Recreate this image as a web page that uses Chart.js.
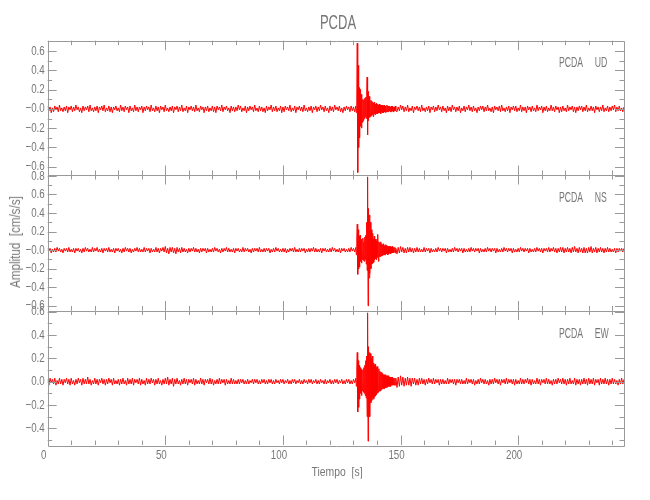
<!DOCTYPE html>
<html>
<head>
<meta charset="utf-8">
<script src="https://cdn.jsdelivr.net/npm/chart.js@4.4.1/dist/chart.umd.min.js"></script>
<style>
  body { margin: 0; background: #fff; }
  #wrap { position: relative; width: 650px; height: 500px; }
  #wrap canvas { position: absolute; left: 0; top: 0; }
  .txt { position: absolute; color: #777; font-family: "Liberation Sans", Arial, sans-serif; white-space: pre; line-height: 1; }
  .tag { left: 559px; font-size: 15px; transform: translateY(-50%) scaleX(0.58); transform-origin: left center; }
</style>
</head>
<body>
<div id="wrap">
  <canvas id="udChart" width="650" height="500"></canvas>
  <canvas id="nsChart" width="650" height="500"></canvas>
  <canvas id="ewChart" width="650" height="500"></canvas>
  <div class="txt" style="left:338px; top:22px; font-size:20px; transform: translate(-50%,-50%) scaleX(0.65);">PCDA</div>
  <div class="txt tag" style="top:61px;">PCDA     UD</div>
  <div class="txt tag" style="top:196px;">PCDA     NS</div>
  <div class="txt tag" style="top:332px;">PCDA     EW</div>
  <div class="txt" style="left:15px; top:242px; font-size:14px; transform: translate(-50%,-50%) rotate(-90deg) scaleX(0.83);">Amplitud  [cm/s/s]</div>
  <div class="txt" style="left:337px; top:471px; font-size:13px; transform: translate(-50%,-50%) scaleX(0.8);">Tiempo  [s]</div>
</div>
<script>
// Time axis
const timeMin = 0;
const timeMax = 245;
const timeTicks = [0, 50, 100, 150, 200];
const timeTickLabels = ['0', '50', '100', '150', '200'];

// sample grid: noise before the event, the event itself (finer), noise after
const beforeStart = 0, beforeStep = 0.5;
const eventStart = 131, eventStep = 0.2;
const afterStart = 148.5, afterStep = 0.5;

// UD component
const udTicks = [-0.6, -0.4, -0.2, 0, 0.2, 0.4, 0.6];
const udTickLabels = ['\u22120.6', '\u22120.4', '\u22120.2', '\u22120.0', '0.2', '0.4', '0.6'];
const udRange = [-0.686, 0.707];
const udBefore = [
  .03,-.02,.02,-.04,.01,-.03,.03,-.01,.02,-.03,.04,-.02,.01,-.03,.02,-.02,.03,-.04,.02,-.01,
  .03,-.03,.02,-.02,.04,-.01,.02,-.03,.01,-.04,.03,-.02,.02,-.01,.03,-.03,.04,-.02,.01,-.03,
  .02,-.02,.03,-.04,.02,-.01,.03,-.02,.04,-.03,.01,-.02,.03,-.03,.02,-.04,.02,-.01,.03,-.02,
  .01,-.03,.04,-.02,.02,-.03,.03,-.01,.02,-.04,.03,-.02,.01,-.03,.04,-.02,.02,-.03,.02,-.01,
  .03,-.04,.02,-.02,.03,-.01,.02,-.03,.04,-.02,.01,-.03,.03,-.02,.02,-.04,.03,-.01,.02,-.03,
  .04,-.02,.01,-.03,.02,-.02,.03,-.04,.02,-.01,.03,-.03,.02,-.02,.04,-.03,.01,-.02,.03,-.04,
  .02,-.01,.03,-.02,.02,-.03,.04,-.02,.01,-.03,.03,-.01,.02,-.04,.02,-.02,.03,-.03,.01,-.02,
  .03,-.03,.02,-.04,.03,-.01,.02,-.02,.04,-.03,.02,-.01,.03,-.02,.01,-.04,.03,-.02,.02,-.03,
  .02,-.02,.04,-.01,.03,-.03,.01,-.02,.03,-.04,.02,-.02,.03,-.01,.02,-.03,.04,-.02,.01,-.03,
  .03,-.02,.02,-.03,.01,-.04,.03,-.02,.02,-.01,.04,-.03,.02,-.02,.03,-.03,.01,-.02,.03,-.04,
  .02,-.03,.03,-.01,.02,-.02,.04,-.03,.01,-.02,.03,-.04,.02,-.01,.03,-.02,.02,-.03,.04,-.02,
  .01,-.03,.02,-.02,.03,-.04,.02,-.01,.03,-.03,.02,-.02,.04,-.01,.02,-.03,.03,-.02,.01,-.04,
  .03,-.02,.02,-.03,.04,-.01,.02,-.02,.03,-.03,.01,-.04,.02,-.02,.03,-.01,.02,-.03,.03,-.02,
  .02,-.03
];
const udEvent = [
  .03,-.04,.10,.68,-.66,.45,-.40,.22,-.30,.20,-.18,.15,-.20,.12,-.14,.10,-.12,.09,-.10,.11,
  -.08,.12,-.10,.14,.33,-.27,.18,-.12,.13,-.09,.10,-.08,.09,-.07,.08,-.06,.07,-.08,.06,-.05,
  .07,-.06,.05,-.05,.06,-.04,.05,-.05,.04,-.04,.05,-.04,.04,-.05,.04,-.03,.04,-.04,.03,-.04,
  .04,-.03,.03,-.04,.03,-.03,.04,-.03,.03,-.03,.03,-.02,.03,-.03,.02,-.03,.03,-.02,.03,-.03,
  .02,-.03,.02,-.02,.03,-.02
];
const udAfter = [
  -.03,.02,-.02,.04,-.01,.03,-.03,.02,-.02,.04,-.03,.01,-.02,.03,-.04,.02,-.01,.03,-.02,.02,
  -.03,.04,-.02,.01,-.03,.02,-.02,.03,-.04,.02,-.01,.03,-.03,.02,-.02,.04,-.01,.02,-.03,.03,
  -.02,.01,-.04,.03,-.02,.02,-.03,.04,-.01,.02,-.03,.02,-.02,.03,-.04,.01,-.02,.03,-.03,.02,
  -.01,.04,-.02,.02,-.03,.03,-.02,.01,-.04,.02,-.02,.03,-.01,.03,-.03,.02,-.02,.04,-.02,.01,
  -.03,.02,-.04,.03,-.01,.02,-.02,.03,-.03,.04,-.02,.01,-.03,.02,-.02,.03,-.04,.02,-.01,.03,
  -.02,.03,-.03,.01,-.02,.04,-.03,.02,-.02,.02,-.04,.03,-.01,.02,-.03,.03,-.02,.01,-.03,.04,
  -.02,.02,-.01,.03,-.04,.02,-.02,.03,-.03,.01,-.02,.04,-.02,.02,-.03,.03,-.01,.02,-.04,.02,
  -.03,.03,-.02,.01,-.03,.04,-.02,.02,-.01,.03,-.03,.02,-.04,.02,-.02,.03,-.01,.03,-.03,.02,
  -.02,.04,-.03,.01,-.02,.03,-.02,.02,-.04,.03,-.01,.02,-.03,.02,-.02,.04,-.03,.01,-.02,.03,
  -.03,.02,-.02,.03,-.01,.04,-.03,.02,-.02,.03,-.02,.01,-.03,.02,-.02,.03
];

// NS component
const nsTicks = [-0.6, -0.4, -0.2, 0, 0.2, 0.4, 0.6, 0.8];
const nsTickLabels = ['\u22120.6', '\u22120.4', '\u22120.2', '\u22120.0', '0.2', '0.4', '0.6', '0.8'];
const nsRange = [-0.65, 0.81];
const nsBefore = [
  .02,-.01,.02,-.03,.01,-.02,.02,-.02,.03,-.01,.02,-.02,.01,-.03,.02,-.01,.02,-.02,.03,-.02,
  .01,-.02,.02,-.03,.02,-.01,.02,-.02,.01,-.03,.02,-.02,.03,-.01,.02,-.02,.01,-.02,.03,-.02,
  .02,-.01,.03,-.02,.01,-.02,.02,-.03,.02,-.01,.02,-.02,.03,-.02,.01,-.02,.02,-.03,.02,-.01,
  .02,-.02,.01,-.03,.02,-.02,.03,-.01,.02,-.02,.02,-.03,.01,-.02,.02,-.01,.03,-.02,.02,-.02,
  .01,-.02,.03,-.02,.02,-.01,.02,-.03,.02,-.02,.01,-.02,.03,-.02,.02,-.03,.02,-.01,.03,-.02,
  .04,-.03,.02,-.04,.03,-.02,.03,-.03,.02,-.04,.03,-.02,.02,-.03,.03,-.02,.02,-.02,.01,-.03,
  .02,-.02,.02,-.01,.03,-.02,.02,-.02,.01,-.03,.02,-.02,.02,-.01,.02,-.03,.02,-.02,.01,-.02,
  .02,-.02,.03,-.01,.02,-.02,.01,-.03,.02,-.02,.02,-.01,.03,-.02,.02,-.02,.01,-.02,.02,-.03,
  .02,-.01,.02,-.02,.01,-.02,.03,-.02,.02,-.01,.02,-.02,.01,-.03,.02,-.02,.02,-.01,.02,-.02,
  .03,-.02,.01,-.02,.02,-.02,.02,-.01,.02,-.03,.01,-.02,.02,-.02,.03,-.01,.02,-.02,.01,-.02,
  .02,-.02,.02,-.03,.01,-.02,.02,-.01,.02,-.02,.03,-.02,.01,-.02,.02,-.02,.02,-.01,.02,-.03,
  .01,-.02,.02,-.02,.02,-.01,.03,-.02,.02,-.02,.01,-.02,.02,-.03,.02,-.01,.02,-.02,.01,-.02,
  .02,-.02,.03,-.01,.02,-.02,.01,-.02,.02,-.03,.02,-.01,.02,-.02,.01,-.02,.02,-.02,.03,-.01,
  .02,-.02
];
const nsEvent = [
  .03,-.05,.12,.28,-.26,.22,-.20,.15,-.18,.16,-.12,.10,-.14,.12,-.10,.13,-.11,.09,-.12,.14,
  -.10,.16,-.15,.30,-.22,.79,-.60,.45,-.30,.38,-.25,.30,-.20,.22,-.15,.18,-.14,.12,-.13,.15,
  -.10,.12,-.09,.10,-.10,.12,-.08,.17,-.12,.09,-.07,.08,-.07,.09,-.06,.07,-.06,.06,-.05,.07,
  -.05,.05,-.05,.06,-.04,.05,-.04,.04,-.05,.04,-.04,.04,-.03,.04,-.04,.03,-.03,.04,-.03,.03,
  -.03,.03,-.02,.03,-.03,.02
];
const nsAfter = [
  -.04,.03,-.03,.04,-.02,.03,-.03,.02,-.03,.03,-.02,.03,-.02,.02,-.03,.02,-.02,.03,-.02,.02,
  -.02,.01,-.02,.03,-.02,.02,-.01,.02,-.03,.02,-.02,.01,-.02,.02,-.02,.03,-.01,.02,-.02,.02,
  -.01,.02,-.03,.02,-.02,.01,-.02,.02,-.02,.03,-.01,.02,-.02,.02,-.01,.02,-.03,.02,-.02,.01,
  -.02,.02,-.02,.03,-.01,.02,-.02,.02,-.01,.02,-.03,.02,-.02,.01,-.02,.02,-.02,.03,-.01,.02,
  -.02,.02,-.01,.02,-.03,.02,-.02,.01,-.02,.02,-.02,.03,-.01,.02,-.02,.02,-.01,.02,-.03,.02,
  -.02,.01,-.02,.02,-.02,.03,-.01,.02,-.02,.02,-.01,.02,-.03,.02,-.02,.01,-.02,.02,-.02,.03,
  -.01,.02,-.02,.02,-.03,.02,-.01,.02,-.02,.03,-.02,.02,-.01,.03,-.02,.02,-.03,.02,-.02,.03,
  -.02,.03,-.03,.02,-.02,.03,-.02,.02,-.03,.03,-.02,.04,-.02,.02,-.03,.03,-.02,.02,-.03,.03,
  -.03,.02,-.03,.03,-.02,.04,-.03,.02,-.02,.03,-.03,.02,-.02,.03,-.02,.02,-.03,.02,-.02,.03,
  -.02,.02,-.02,.01,-.02,.02,-.03,.02,-.02,.02,-.01,.02,-.02,.02,-.02,.02
];

// EW component
const ewTicks = [-0.4, -0.2, 0, 0.2, 0.4, 0.6];
const ewTickLabels = ['\u22120.4', '\u22120.2', '0.0', '0.2', '0.4', '0.6'];
const ewRange = [-0.543, 0.61];
const ewBefore = [
  .02,-.03,.03,-.01,.02,-.02,.03,-.03,.01,-.02,.03,-.02,.02,-.03,.02,-.01,.03,-.02,.02,-.03,
  .03,-.02,.01,-.03,.02,-.02,.03,-.01,.02,-.03,.03,-.02,.02,-.02,.04,-.02,.02,-.03,.01,-.02,
  .03,-.02,.02,-.03,.02,-.01,.03,-.02,.02,-.03,.02,-.02,.03,-.01,.02,-.03,.03,-.02,.01,-.02,
  .02,-.03,.02,-.02,.03,-.02,.01,-.03,.03,-.02,.02,-.02,.03,-.03,.02,-.01,.02,-.02,.03,-.03,
  .02,-.02,.01,-.03,.03,-.02,.02,-.02,.03,-.01,.02,-.03,.02,-.02,.03,-.02,.01,-.03,.02,-.02,
  .03,-.02,.04,-.03,.02,-.02,.03,-.04,.02,-.02,.03,-.02,.01,-.03,.02,-.02,.03,-.02,.02,-.03,
  .02,-.01,.02,-.02,.03,-.03,.02,-.02,.01,-.02,.03,-.02,.02,-.03,.02,-.01,.02,-.02,.03,-.02,
  .02,-.03,.01,-.02,.02,-.02,.03,-.02,.02,-.01,.02,-.03,.02,-.02,.01,-.02,.03,-.02,.02,-.02,
  .01,-.02,.02,-.02,.02,-.01,.02,-.02,.01,-.02,.02,-.02,.01,-.01,.02,-.02,.02,-.01,.02,-.02,
  .01,-.02,.02,-.01,.02,-.02,.01,-.02,.02,-.01,.02,-.02,.01,-.02,.02,-.01,.01,-.02,.02,-.01,
  .02,-.02,.01,-.01,.02,-.02,.01,-.02,.02,-.01,.02,-.02,.01,-.01,.02,-.02,.01,-.02,.02,-.01,
  .01,-.02,.02,-.01,.02,-.02,.01,-.01,.02,-.02,.01,-.02,.02,-.01,.01,-.02,.02,-.02,.01,-.01,
  .02,-.02,.01,-.02,.02,-.01,.02,-.02,.01,-.01,.02,-.02,.01,-.02,.02,-.01,.02,-.02,.01,-.02,
  .02,-.01
];
const ewEvent = [
  .03,-.04,.10,.25,-.26,.18,-.22,.14,-.15,.12,-.10,.11,-.12,.09,-.08,.10,-.09,.12,-.10,.14,
  -.12,.18,-.14,.22,-.30,.59,-.51,.30,-.28,.25,-.30,.24,-.18,.20,-.16,.22,-.14,.16,-.15,.14,
  -.13,.15,-.12,.12,-.11,.13,-.10,.10,-.09,.11,-.08,.09,-.08,.08,-.07,.08,-.06,.07,-.06,.06,
  -.06,.06,-.05,.06,-.05,.05,-.05,.05,-.04,.05,-.04,.04,-.04,.04,-.04,.04,-.03,.04,-.03,.03,
  -.03,.03,-.03,.03,-.03,.03
];
const ewAfter = [
  -.05,.04,-.04,.05,-.03,.04,-.04,.03,-.03,.04,-.03,.03,-.04,.03,-.02,.03,-.03,.02,-.03,.03,
  -.02,.03,-.02,.02,-.03,.02,-.02,.03,-.01,.02,-.02,.03,-.02,.02,-.01,.02,-.03,.02,-.02,.02,
  -.02,.01,-.02,.03,-.02,.02,-.01,.02,-.02,.02,-.03,.02,-.01,.02,-.02,.02,-.02,.01,-.02,.03,
  -.02,.02,-.01,.02,-.02,.02,-.03,.01,-.02,.02,-.02,.03,-.01,.02,-.02,.02,-.02,.01,-.03,.02,
  -.02,.02,-.02,.03,-.01,.02,-.02,.02,-.03,.02,-.01,.02,-.02,.03,-.02,.02,-.01,.02,-.02,.02,
  -.03,.02,-.02,.01,-.02,.03,-.02,.02,-.02,.02,-.01,.03,-.02,.02,-.03,.02,-.02,.01,-.02,.03,
  -.02,.02,-.03,.02,-.01,.02,-.02,.03,-.02,.02,-.02,.01,-.03,.02,-.02,.02,-.02,.03,-.01,.02,
  -.02,.03,-.02,.02,-.03,.02,-.02,.03,-.02,.01,-.02,.03,-.03,.02,-.02,.02,-.03,.02,-.02,.03,
  -.02,.02,-.03,.03,-.02,.02,-.02,.03,-.03,.02,-.01,.02,-.03,.03,-.02,.02,-.02,.03,-.02,.02,
  -.03,.02,-.02,.03,-.02,.02,-.02,.01,-.03,.02,-.02,.03,-.02,.02,-.02,.03
];

const textColor = '#777';
const frameColor = '#999';
const labelFont = '13px "Liberation Sans", Arial, sans-serif';
const labelSqueeze = 0.75; // the original tick font is narrow

// join the three pieces of a trace into {x, y} points
function buildTrace(before, event, after) {
  const pts = [];
  before.forEach((v, i) => pts.push({ x: beforeStart + i * beforeStep, y: v }));
  event.forEach((v, i) => pts.push({ x: eventStart + i * eventStep, y: v }));
  after.forEach((v, i) => pts.push({ x: afterStart + i * afterStep, y: v }));
  return pts;
}

function squeezedText(ctx, text, x, y) {
  ctx.save();
  ctx.translate(x, y);
  ctx.scale(labelSqueeze, 1);
  ctx.fillText(text, 0, 0);
  ctx.restore();
}

// IDL style frame: box with inward major/minor ticks on all four sides, plus tick labels
const frameTicks = {
  id: 'frameTicks',
  afterDraw(chart, args, opts) {
    const { ctx, chartArea: a, scales: { x, y } } = chart;
    ctx.save();
    ctx.strokeStyle = frameColor;
    ctx.lineWidth = 1;
    ctx.beginPath();
    ctx.rect(Math.round(a.left) + 0.5, Math.round(a.top) + 0.5, Math.round(a.right - a.left), Math.round(a.bottom - a.top));
    for (let t = 0; t <= timeMax; t += 10) {
      const px = Math.round(x.getPixelForValue(t)) + 0.5;
      const len = t % 50 === 0 ? 9.5 : 4.5;
      ctx.moveTo(px, a.top); ctx.lineTo(px, a.top + len);
      ctx.moveTo(px, a.bottom); ctx.lineTo(px, a.bottom - len);
    }
    for (let k = Math.ceil(y.min * 10); k <= Math.floor(y.max * 10); k++) {
      const py = Math.round(y.getPixelForValue(k / 10)) + 0.5;
      const len = k % 2 === 0 ? 9 : 4.5;
      ctx.moveTo(a.left, py); ctx.lineTo(a.left + len, py);
      ctx.moveTo(a.right, py); ctx.lineTo(a.right - len, py);
    }
    ctx.stroke();

    ctx.fillStyle = textColor;
    ctx.font = labelFont;
    ctx.textAlign = 'right';
    ctx.textBaseline = 'middle';
    opts.ticks.forEach((v, i) => squeezedText(ctx, opts.labels[i], a.left - 3, y.getPixelForValue(v)));
    if (opts.showX) {
      ctx.textAlign = 'center';
      ctx.textBaseline = 'top';
      timeTicks.forEach((t, i) => squeezedText(ctx, timeTickLabels[i], x.getPixelForValue(t) - 4, a.bottom + 4));
    }
    ctx.restore();
  }
};

function makePanel(canvasId, points, range, ticks, tickLabels, top, bottom, showX) {
  return new Chart(document.getElementById(canvasId), {
    type: 'line',
    data: {
      datasets: [{
        data: points,
        borderColor: '#ff0000',
        borderWidth: 1,
        pointRadius: 0,
        tension: 0,
        fill: false
      }]
    },
    options: {
      responsive: false,
      animation: false,
      events: [],
      layout: { padding: { top: top, bottom: 500 - bottom, left: 47.7, right: 26 } },
      plugins: {
        legend: { display: false },
        tooltip: { enabled: false },
        frameTicks: { ticks: ticks, labels: tickLabels, showX: showX }
      },
      scales: {
        x: { type: 'linear', min: timeMin, max: timeMax, display: false },
        y: { type: 'linear', min: range[0], max: range[1], display: false }
      }
    },
    plugins: [frameTicks]
  });
}

makePanel('udChart', buildTrace(udBefore, udEvent, udAfter), udRange, udTicks, udTickLabels, 40.7, 175, false);
makePanel('nsChart', buildTrace(nsBefore, nsEvent, nsAfter), nsRange, nsTicks, nsTickLabels, 175, 310.5, false);
makePanel('ewChart', buildTrace(ewBefore, ewEvent, ewAfter), ewRange, ewTicks, ewTickLabels, 310.5, 445, true);
</script>
</body>
</html>
